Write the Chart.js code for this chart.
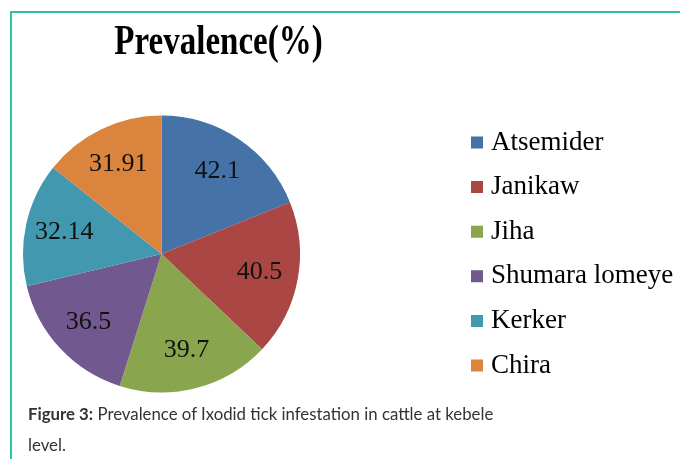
<!DOCTYPE html>
<html>
<head>
<meta charset="utf-8">
<script src="https://cdn.jsdelivr.net/npm/chart.js@4.4.1/dist/chart.umd.min.js"></script>
<style>
    html, body { margin: 0; padding: 0; background: #fff; overflow: hidden; }
    body { width: 680px; height: 459px; position: relative; }
    #frame {
        position: absolute; left: 10px; top: 11px; right: -20px; bottom: -20px;
        border-top: 2px solid #2cc4a4; border-left: 2px solid #2cc4a4;
    }
    #wrap { position: absolute; left: -140px; top: 12px; width: 840px; height: 398px; }
    #caption {
        position: absolute; left: 28px; top: 399px;
        font-family: Lato, "Open Sans", sans-serif; font-size: 16.8px; line-height: 30.5px;
        color: #333; white-space: nowrap;
    }
</style>
</head>
<body>
<div id="frame"></div>
<div id="wrap"><canvas id="myChart" width="840" height="398"></canvas></div>
<div id="caption"><b>Figure 3:</b> Prevalence of Ixodid tick infestation in cattle at kebele<br>level.</div>
<script>
const kebeles = ["Atsemider", "Janikaw", "Jiha", "Shumara lomeye", "Kerker", "Chira"];
const prevalence = [42.1, 40.5, 39.7, 36.5, 32.14, 31.91];
const sliceColors = ["#4572A7", "#AA4643", "#89A54E", "#71588F", "#4198AF", "#DB843D"];
const chartTitle = "Prevalence(%)";

const serif = "'Liberation Serif', 'Times New Roman', serif";
Chart.defaults.font.family = serif;

// title is drawn a bit taller than wide, like the original
const tallTitle = {
    id: "tallTitle",
    afterDraw(chart) {
        const c = chart.ctx;
        c.save();
        c.translate(358.5, 42);
        c.scale(1, 1.28);
        c.font = "bold 33px " + serif;
        c.fillStyle = "#000";
        c.textAlign = "center";
        c.fillText(chartTitle, 0, 0);
        c.restore();
    }
};

// values written inside each slice
const sliceLabels = {
    id: "sliceLabels",
    afterDatasetsDraw(chart) {
        const c = chart.ctx;
        const meta = chart.getDatasetMeta(0);
        c.save();
        c.font = "26px " + serif;
        c.fillStyle = "#111";
        c.textAlign = "center";
        c.textBaseline = "middle";
        meta.data.forEach((arc, i) => {
            const p = arc.getProps(["x", "y", "startAngle", "endAngle", "outerRadius"]);
            const mid = (p.startAngle + p.endAngle) / 2;
            const r = p.outerRadius * 0.72;
            c.fillText(String(prevalence[i]), p.x + Math.cos(mid) * r, p.y + Math.sin(mid) * r);
        });
        c.restore();
    }
};

// legend text in the serif face, placed on the legend's own boxes
const legendText = {
    id: "legendText",
    afterDraw(chart) {
        const lg = chart.legend;
        const c = chart.ctx;
        c.save();
        c.font = "27px " + serif;
        c.fillStyle = "#000";
        c.textAlign = "left";
        c.textBaseline = "middle";
        lg.legendItems.forEach((item, i) => {
            const hb = lg.legendHitBoxes[i];
            c.fillText(item.text, hb.left + 12 + 8, hb.top + hb.height / 2);
        });
        c.restore();
    }
};

const ctx = document.getElementById("myChart").getContext("2d");

new Chart(ctx, {
    type: "pie",
    data: {
        labels: kebeles,
        datasets: [{
            data: prevalence,
            backgroundColor: sliceColors,
            borderWidth: 0
        }]
    },
    options: {
        responsive: false,
        animation: false,
        radius: 138.5,
        layout: {
            padding: { left: 9.6, right: 96.6, top: 86, bottom: 0 }
        },
        plugins: {
            title: { display: false },
            tooltip: { enabled: false },
            legend: {
                position: "right",
                maxWidth: 150,
                labels: {
                    boxWidth: 12,
                    boxHeight: 12,
                    padding: 17.6,
                    color: "rgba(0,0,0,0)",
                    font: { family: serif, size: 27 }
                }
            }
        }
    },
    plugins: [tallTitle, sliceLabels, legendText]
});
</script>
</body>
</html>
